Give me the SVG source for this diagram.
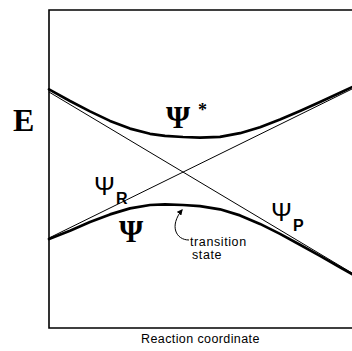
<svg xmlns="http://www.w3.org/2000/svg" width="352" height="351" viewBox="0 0 352 351">
<defs>
<style>
.axis{fill:none;stroke:#000;stroke-width:1.6}
.thin{fill:none;stroke:#000;stroke-width:1}
.thick{fill:none;stroke:#000;stroke-width:2.7;stroke-linejoin:round;stroke-linecap:round}
.serif{font-family:"Liberation Serif","Times New Roman",serif;fill:#000}
.sans{font-family:"Liberation Sans",Arial,sans-serif;fill:#000}
</style>
<marker id="ah" viewBox="0 0 10 10" refX="8" refY="5" markerWidth="6" markerHeight="6" orient="auto" markerUnits="userSpaceOnUse">
<path d="M0,0 L10,5 L0,10 Z" fill="#000"/>
</marker>
</defs>
<rect width="352" height="351" fill="#fff"/>
<g id="axes">
<path class="axis" d="M352,10 L49,10 L49,328 L352,328"/>
</g>
<g id="connectors">
<line id="line-R" class="thin" x1="49" y1="92" x2="352" y2="273"/>
<line id="line-P" class="thin" x1="49" y1="238" x2="352" y2="89"/>
<polyline id="curve-upper" class="thick" points="49,89.4 70,101 90,111.4 110,120.9 130,128.6 150,133.8 165,135.8 183,137 200,137.7 220,136.8 240,133.2 260,127.2 280,119.5 300,111 320,102 340,92.8 352,87.1"/>
<polyline id="curve-lower" class="thick" points="49,239 70,230.7 90,222.1 110,214.4 130,208.4 150,205 165,204.3 183,205 200,206.1 220,209.3 240,215.4 260,223.9 280,233.9 300,244.7 320,255.9 340,267.3 352,274"/>
<path id="ts-arrow" class="thin" stroke-width="1.3" d="M189,240 C176,240 169,226 182,210" marker-end="url(#ah)"/>
</g>
<g id="label-E"><text class="serif" x="13" y="131" font-size="32" font-weight="bold">E</text></g>
<g id="label-psistar"><text class="serif" x="166" y="128" font-size="31" font-weight="bold">Ψ</text><text class="serif" x="198" y="116" font-size="18" font-weight="bold">*</text></g>
<g id="label-psi"><text class="serif" x="119" y="242" font-size="31" font-weight="bold">Ψ</text></g>
<g id="label-psiR"><text class="sans" x="94" y="195" font-size="25">Ψ</text><text class="sans" x="116" y="204" font-size="16" font-weight="bold">R</text></g>
<g id="label-psiP"><text class="sans" x="271" y="221" font-size="25">Ψ</text><text class="sans" x="293" y="231" font-size="16" font-weight="bold">P</text></g>
<g id="label-ts"><text class="sans" x="190" y="246" font-size="12.5" letter-spacing="0.6">transition</text><text class="sans" x="192" y="259" font-size="12.5" letter-spacing="0.6">state</text></g>
<g id="label-x"><text class="sans" x="141" y="343" font-size="12.5" letter-spacing="0.4">Reaction coordinate</text></g>
</svg>
